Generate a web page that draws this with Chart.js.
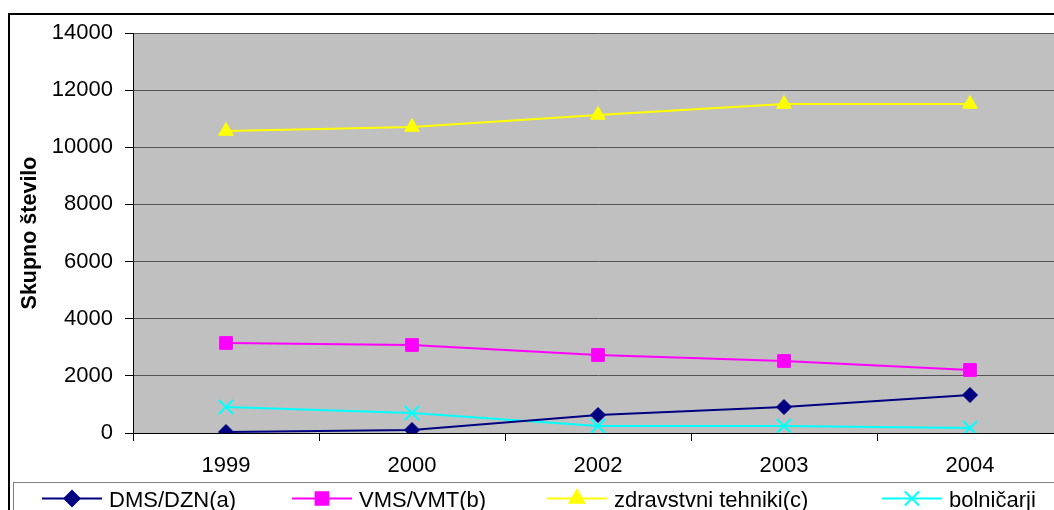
<!DOCTYPE html>
<html>
<head>
<meta charset="utf-8">
<script src="https://cdn.jsdelivr.net/npm/chart.js@4"></script>
<style>
  html, body { margin: 0; padding: 0; background: #fff; overflow: hidden; }
  #wrap { width: 1075px; height: 510px; }
</style>
</head>
<body>
<div id="wrap"><canvas id="chart" width="1075" height="510"></canvas></div>
<script>
// podatki
const years = ['1999', '2000', '2002', '2003', '2004'];
const dmsDzn = [35, 105, 630, 910, 1330];
const vmsVmt = [3150, 3080, 2730, 2520, 2205];
const tehniki = [10570, 10710, 11130, 11515, 11515];
const bolnicarji = [910, 700, 245, 245, 175];
const yTicks = [0, 2000, 4000, 6000, 8000, 10000, 12000, 14000];

const FONT = 'Liberation Sans, Arial, sans-serif';

const series = [
  { label: 'DMS/DZN(a)', data: dmsDzn, color: '#000080', style: 'rectRot', r: 7.5 },
  { label: 'VMS/VMT(b)', data: vmsVmt, color: '#FF00FF', style: 'rect', r: 9 },
  { label: 'zdravstvni tehniki(c)', data: tehniki, color: '#FFFF00', style: 'triangle', r: 8.5 },
  { label: 'bolničarji', data: bolnicarji, color: '#00FFFF', style: 'crossRot', r: 10 }
];

// siva podlaga + okvir
const bgPlugin = {
  id: 'bg',
  beforeDraw(chart) {
    const { ctx, chartArea: a } = chart;
    ctx.save();
    ctx.fillStyle = '#fff';
    ctx.fillRect(0, 0, chart.width, chart.height);
    ctx.fillStyle = '#C0C0C0';
    ctx.fillRect(a.left, a.top, a.right - a.left, a.bottom - a.top);
    ctx.restore();
  },
  afterDraw(chart) {
    const ctx = chart.ctx;
    ctx.save();
    ctx.strokeStyle = '#000';
    ctx.lineWidth = 2;
    ctx.strokeRect(9, 14, chart.width, chart.height);
    ctx.restore();
  }
};

// legenda spodaj
const legendPlugin = {
  id: 'bottomLegend',
  afterDraw(chart) {
    const ctx = chart.ctx;
    ctx.save();
    ctx.strokeStyle = '#808080';
    ctx.lineWidth = 1;
    ctx.strokeRect(13.5, 482.5, chart.width, 40);
    const lineX = [42, 292, 547, 882];
    const y = 498.5;
    ctx.font = '22px ' + FONT;
    ctx.textBaseline = 'alphabetic';
    chart.data.datasets.forEach((ds, i) => {
      const x0 = lineX[i];
      const len = 60;
      ctx.strokeStyle = ds.borderColor;
      ctx.fillStyle = ds.borderColor;
      ctx.lineWidth = 2;
      ctx.beginPath();
      ctx.moveTo(x0, y);
      ctx.lineTo(x0 + len, y);
      ctx.stroke();
      Chart.helpers.drawPoint(ctx, {
        pointStyle: ds.pointStyle, radius: ds.pointRadius, rotation: 0,
        borderWidth: ds.pointStyle === 'crossRot' ? 2 : 1
      }, x0 + len / 2, y);
      ctx.fillStyle = '#000';
      ctx.fillText(ds.label, x0 + len + 7, 506.5);
    });
    ctx.restore();
  }
};

const ctx = document.getElementById('chart').getContext('2d');
new Chart(ctx, {
  type: 'line',
  data: {
    labels: years,
    datasets: series.map(s => ({
      label: s.label,
      data: s.data,
      borderColor: s.color,
      backgroundColor: s.color,
      pointBackgroundColor: s.color,
      pointBorderColor: s.color,
      pointBorderWidth: s.style === 'crossRot' ? 2 : 1,
      pointStyle: s.style,
      pointRadius: s.r,
      borderWidth: 2,
      tension: 0,
      fill: false
    }))
  },
  options: {
    responsive: false,
    animation: false,
    layout: { padding: { left: 13, top: 33, right: 8, bottom: 0 } },
    plugins: { legend: { display: false }, tooltip: { enabled: false } },
    scales: {
      x: {
        offset: true,
        grid: { display: true, drawOnChartArea: false, offset: true, color: '#000', tickLength: 8 },
        border: { color: '#000', width: 1 },
        ticks: { color: '#000', font: { family: FONT, size: 22 }, padding: 12, maxRotation: 0 },
        afterFit(scale) { scale.height = 77; }
      },
      y: {
        min: 0, max: 14000,
        afterBuildTicks(scale) { scale.ticks = yTicks.map(v => ({ value: v })); },
        grid: { color: '#555', lineWidth: 1, tickLength: 8, tickColor: '#000' },
        border: { color: '#000', width: 1 },
        ticks: { color: '#000', font: { family: FONT, size: 22 }, padding: 12, callback: v => String(v) },
        title: { display: true, text: 'Skupno število', color: '#000', font: { family: FONT, size: 21.5, weight: 'bold' }, padding: { top: 4, bottom: 4 } },
        afterFit(scale) { scale.width = 120; }
      }
    }
  },
  plugins: [bgPlugin, legendPlugin]
});
</script>
</body>
</html>
